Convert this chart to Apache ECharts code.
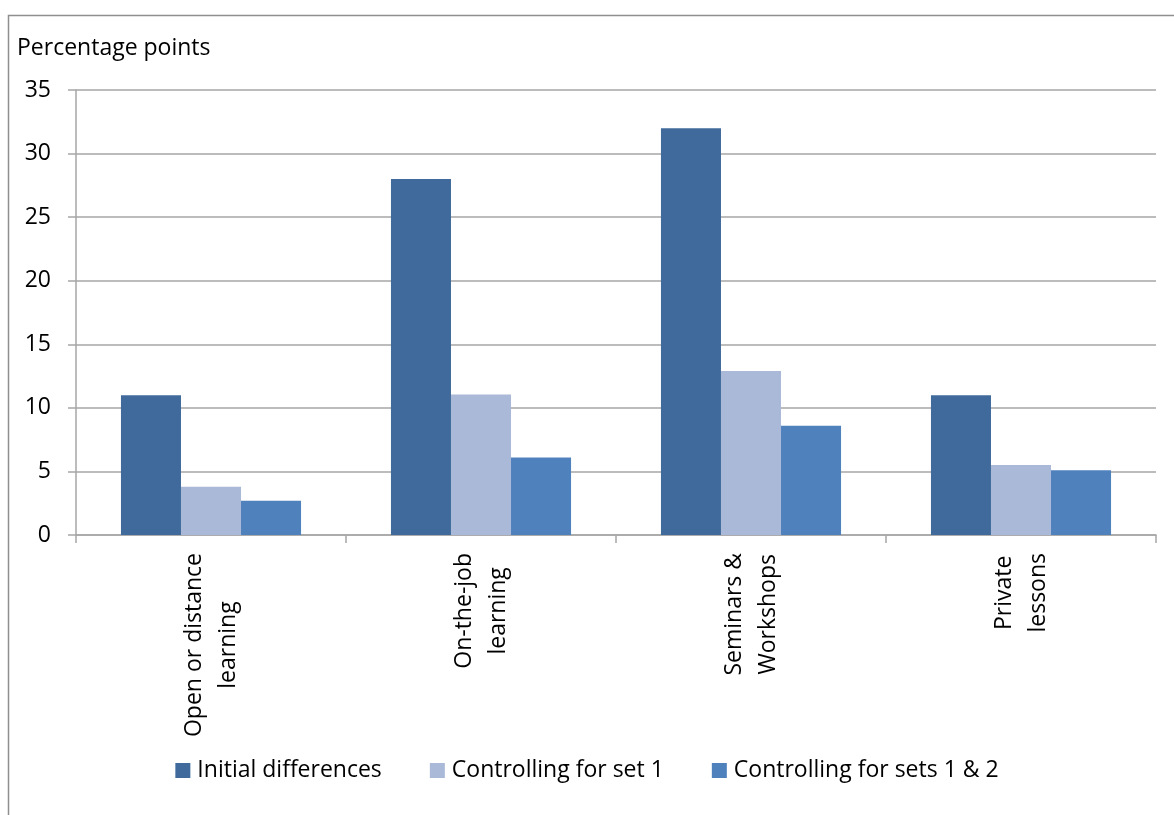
<!DOCTYPE html>
<html>
<head>
<meta charset="utf-8">
<script src="https://cdn.jsdelivr.net/npm/echarts@6/dist/echarts.min.js"></script>
<style>
html,body{margin:0;padding:0;background:#fff;}
#chart{width:1174px;height:815px;}
</style>
</head>
<body>
<div id="chart"></div>
<script>
const categories = ['Open or distance\nlearning', 'On-the-job\nlearning', 'Seminars &\nWorkshops', 'Private\nlessons'];
const seriesNames = ['Initial differences', 'Controlling for set 1', 'Controlling for sets 1 & 2'];
const initialDifferences = [11.0, 28.0, 32.0, 11.0];
const controllingSet1 = [3.8, 11.05, 12.9, 5.5];
const controllingSets12 = [2.7, 6.1, 8.6, 5.1];
const yTicks = { min: 0, max: 35, interval: 5 };
const yAxisTitle = 'Percentage points';

const FONT = 'Open Sans';
const FS = 23;
const GRID_COLOR = '#a6a6a6';
const colors = ['#3F6A9B', '#AAB9D7', '#4F81BD'];

const chart = echarts.init(document.getElementById('chart'), null, { renderer: 'canvas' });
const values = [initialDifferences, controllingSet1, controllingSets12];

chart.setOption({
  animation: false,
  backgroundColor: '#fff',
  textStyle: { fontFamily: FONT },
  title: {
    text: yAxisTitle,
    left: 12,
    top: 32,
    textStyle: { fontFamily: FONT, fontSize: FS, fontWeight: 'normal', color: '#000' }
  },
  graphic: [{
    type: 'polyline',
    silent: true,
    shape: { points: [[8.5, 815], [8.5, 15.5], [1174, 15.5]] },
    style: { stroke: '#8f8f8f', lineWidth: 1.5, fill: null }
  }],
  legend: {
    data: seriesNames,
    left: 'center',
    top: 754,
    icon: 'rect',
    itemWidth: 15,
    itemHeight: 15,
    itemGap: 48,
    textStyle: { fontFamily: FONT, fontSize: FS, color: '#000', padding: [0, 0, 0, 2] }
  },
  grid: { left: 76, right: 18, top: 90, bottom: 280, containLabel: false },
  xAxis: {
    type: 'category',
    data: categories,
    axisLine: { show: true, lineStyle: { color: GRID_COLOR, width: 1.5 } },
    axisTick: { show: true, length: 8, lineStyle: { color: GRID_COLOR, width: 1.5 } },
    axisLabel: {
      interval: 0,
      rotate: 90,
      margin: 18,
      color: '#000',
      fontFamily: FONT,
      fontSize: FS,
      formatter: function (v) {
        return v.split('\n').map(function (s) { return '{a|' + s + '}'; }).join('\n');
      },
      rich: { a: { align: 'center', fontFamily: FONT, fontSize: FS, lineHeight: 34, color: '#000' } }
    }
  },
  yAxis: {
    type: 'value',
    min: yTicks.min,
    max: yTicks.max,
    interval: yTicks.interval,
    axisLine: { show: true, lineStyle: { color: GRID_COLOR, width: 1.5 } },
    axisTick: { show: true, length: 8, lineStyle: { color: GRID_COLOR, width: 1.5 } },
    splitLine: { show: true, lineStyle: { color: GRID_COLOR, width: 1.5 } },
    axisLabel: { color: '#000', fontFamily: FONT, fontSize: FS, margin: 25 }
  },
  series: seriesNames.map(function (name, i) {
    return {
      name: name,
      type: 'bar',
      data: values[i],
      barGap: '0%',
      barCategoryGap: '33.3%',
      itemStyle: { color: colors[i] }
    };
  })
});
</script>
</body>
</html>
